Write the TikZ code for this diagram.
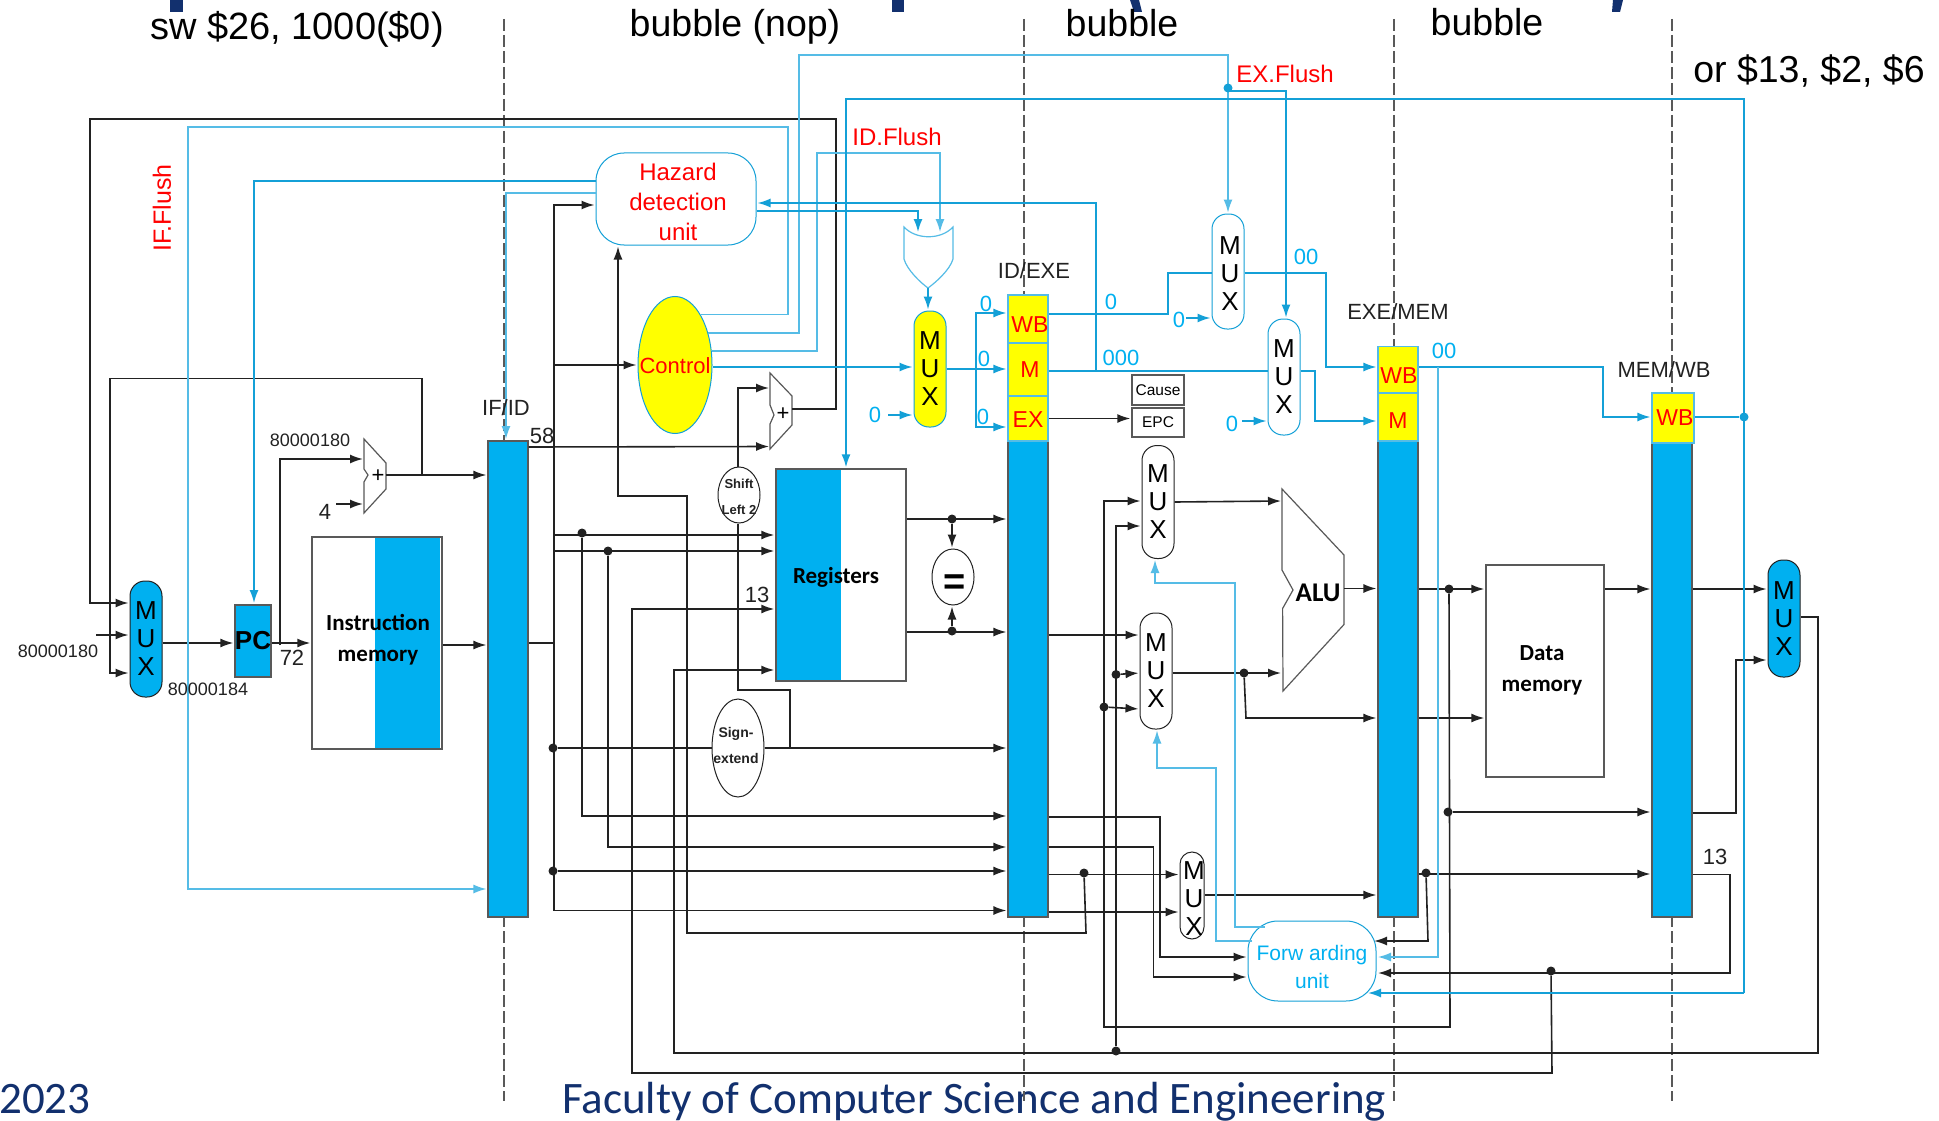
\documentclass[tikz,border=0pt]{standalone}
\usepackage{fontspec}
\setmainfont{Liberation Sans}
\newfontfamily\calibrifont{Carlito}
\usetikzlibrary{shapes.geometric, arrows.meta}
\definecolor{wirec}{RGB}{34,34,34}
\definecolor{edgec}{RGB}{89,89,89}
\definecolor{ctrlc}{RGB}{20,160,215}
\definecolor{ctrllight}{RGB}{85,188,230}
\definecolor{busblue}{RGB}{0,176,240}
\definecolor{navyc}{RGB}{18,48,110}
\definecolor{stageyellow}{RGB}{255,255,0}
\definecolor{redc}{RGB}{255,0,0}
\newcommand{\fsz}[1]{\fontsize{#1}{#1}\selectfont}
\newcommand{\fszl}[2]{\fontsize{#1}{#2}\selectfont}
\tikzset{
  wire/.style={draw=wirec, line width=1.6pt},
  ctrl/.style={draw=ctrlc, line width=1.6pt},
  ctrlthin/.style={draw=ctrllight, line width=1.4pt},
  arrowed/.style={-{Latex[length=13pt,width=9pt]}, shorten >=1pt},
  stageline/.style={draw=edgec, line width=1.4pt, dash pattern=on 12pt off 4pt},
  barnode/.style={draw=edgec, fill=busblue, line width=1.2pt, inner sep=0pt, minimum width=40pt},
  stagebox/.style={draw=ctrllight, fill=stageyellow, line width=1.2pt, inner sep=0pt, minimum width=40pt},
  stagetxt/.style={text=redc, inner sep=0pt, font=\fsz{23}},
  muxnode/.style={draw=wirec, fill=white, rounded corners=15pt, inner sep=0pt, line width=1pt, align=center, minimum width=32pt, font=\fszl{26}{28}},
  memnode/.style={draw=edgec, line width=1.4pt, inner sep=0pt},
  memtxt/.style={inner sep=0pt, align=center, font=\calibrifont\bfseries\fszl{23}{31}},
  unitnode/.style={draw=ctrlc, fill=white, inner sep=0pt, line width=1pt},
  ovalnode/.style={ellipse, draw=wirec, fill=white, inner sep=0pt, line width=1pt},
  dotnode/.style={circle, fill=wirec, inner sep=0pt, minimum size=9pt},
  lbl/.style={text=wirec, inner sep=0pt, font=\fsz{22}},
  bigtxt/.style={anchor=base, text=black, inner sep=0pt, font=\fsz{37.5}},
  redtxt/.style={text=redc, inner sep=0pt, font=\fsz{24}},
  cyantxt/.style={text=busblue, inner sep=0pt, font=\fsz{22}},
  numtxt/.style={text=wirec, inner sep=0pt, font=\fsz{18}},
  gatepath/.style={draw=edgec, fill=white, line width=1.2pt}
}
\begin{document}
\begin{tikzpicture}[x=1pt,y=-1pt]
  \fill[white] (0,0) rectangle (1939,1121);
  \useasboundingbox (0,0) rectangle (1939,1121);

  \fill[navyc] (170,0) rectangle (183,12);
  \fill[navyc] (892,0) rectangle (904,12);
  \fill[navyc] (1130,0) -- (1139,0) -- (1142,12) -- (1134,12) -- cycle;
  \fill[navyc] (1613,0) -- (1623,0) -- (1620,12) -- (1612,12) -- cycle;
  \node[anchor=base west, text=navyc, inner sep=0pt, font=\calibrifont\fsz{45}] (yeartxt) at (-1,1113) {2023};
  \node[anchor=base west, text=navyc, inner sep=0pt, font=\calibrifont\fsz{45}] (facultytxt) at (562,1113) {Faculty of Computer Science and Engineering};

  \foreach \sx in {504,1024,1394,1672}
    \draw[stageline] (\sx,19) -- (\sx,1101);

  \node[bigtxt, font=\fsz{38}] (swtxt) at (297,40) {sw \$26, 1000(\$0)};
  \node[bigtxt] (nop) at (735,37) {bubble (nop)};
  \node[bigtxt] (bubbleone) at (1122,37) {bubble};
  \node[bigtxt] (bubbletwo) at (1487,36) {bubble};
  \node[bigtxt] (ortxt) at (1809,83) {or \$13, \$2, \$6};

  \node[barnode, minimum height=476pt] (ifid) at (508,679) {};
  \node[barnode, minimum height=476pt] (idbar) at (1028,679) {};
  \node[barnode, minimum height=476pt] (exbar) at (1398,679) {};
  \node[barnode, minimum height=474pt] (membar) at (1672,680) {};
  \node[stagebox, minimum height=48pt] (idwb) at (1028,319) {};
  \node[stagebox, minimum height=53pt] (idm) at (1028,369.5) {};
  \node[stagebox, minimum height=45pt] (idex) at (1028,418.5) {};
  \node[stagebox, minimum height=46.5pt] (exwb) at (1398,370) {};
  \node[stagebox, minimum height=48pt] (exm) at (1398,417) {};
  \node[stagebox, minimum height=50pt, minimum width=42pt] (memwb) at (1673,418) {};
  \node[stagetxt] (idwbtxt) at (1030,325) {WB};
  \node[stagetxt] (idmtxt) at (1030,370) {M};
  \node[stagetxt] (idextxt) at (1028,420) {EX};
  \node[stagetxt] (exwbtxt) at (1399,376) {WB};
  \node[stagetxt] (exmtxt) at (1398,421) {M};
  \node[stagetxt] (memwbtxt) at (1675,418) {WB};

  \node[muxnode, fill=busblue, minimum height=116pt] (muxpc) at (146,639) {M\\U\\X};
  \node[draw=edgec, fill=busblue, line width=1.2pt, inner sep=0pt, minimum width=33pt, minimum height=72pt, font=\bfseries\fsz{26}] (pc) at (253,641) {PC};
  \fill[busblue] (375,538) rectangle (440,748);
  \node[memnode, minimum width=130pt, minimum height=212pt] (imem) at (377,643) {};
  \node[memtxt] (imemtxt) at (378,640) {Instruction\\memory};
  \fill[busblue] (776,469) rectangle (841,681);
  \node[memnode, minimum width=130pt, minimum height=212pt] (regs) at (841,575) {};
  \node[memtxt] (regstxt) at (836,577) {Registers};
  \node[memnode, minimum width=118pt, minimum height=212pt] (dmem) at (1545,671) {};
  \node[memtxt] (dmemtxt) at (1542,670) {Data\\memory};

  \node[unitnode, rounded corners=28pt, minimum width=160pt, minimum height=92pt] (hazard) at (676,199) {};
  \node[inner sep=0pt, align=center, text=redc, font=\fszl{24}{30}] (hazardtxt) at (678,202) {Hazard\\detection\\unit};
  \node[unitnode, ellipse, fill=stageyellow, minimum width=74pt, minimum height=137pt] (control) at (675,365) {};
  \node[inner sep=0pt, text=redc, font=\fsz{22}] (controltxt) at (675,366) {Control};
  \node[unitnode, rounded corners=30pt, minimum width=128pt, minimum height=80pt] (fwd) at (1312,961) {};
  \node[inner sep=0pt, align=center, text=busblue, font=\fszl{21}{28}] (fwdtxt) at (1312,967) {Forw arding\\unit};

  \node[muxnode, draw=ctrlc, fill=stageyellow, minimum height=116pt] (muxctrl) at (930,369) {M\\U\\X};
  \node[muxnode, draw=ctrlc, minimum height=115pt] (muxwb) at (1228,271.5) {};
  \node[inner sep=0pt, align=center, font=\fszl{26}{28}] (muxwbtxt) at (1230,274) {M\\U\\X};
  \node[muxnode, draw=ctrlc, minimum height=116pt] (muxm) at (1284,377) {M\\U\\X};
  \node[muxnode, minimum height=113pt] (muxa) at (1158,502) {M\\U\\X};
  \node[muxnode, minimum height=116pt] (muxb) at (1156,671) {M\\U\\X};
  \node[muxnode, rounded corners=12pt, minimum width=24pt, minimum height=87pt] (muxrd) at (1192,895.5) {};
  \node[inner sep=0pt, align=center, font=\fszl{26}{28}] (muxrdtxt) at (1194,899) {M\\U\\X};
  \node[muxnode, fill=busblue, minimum height=117pt] (muxwr) at (1784,618.5) {M\\U\\X};

  \node[ovalnode, minimum width=42pt, minimum height=56pt] (shiftl) at (739,495) {};
  \node[inner sep=0pt, align=center, text=wirec, font=\bfseries\fszl{13}{26}] (shifttxt) at (739,497) {Shift\\Left 2};
  \node[ovalnode, minimum width=52pt, minimum height=98pt] (signext) at (738,748) {};
  \node[inner sep=0pt, align=center, text=wirec, font=\bfseries\fszl{14}{26}] (signtxt) at (736,745) {Sign-\\extend};
  \node[ovalnode, minimum width=42pt, minimum height=56pt] (equal) at (953,577) {};
  \node[inner sep=0pt, font=\bfseries\fsz{38}] (equaltxt) at (955,585) {=};
  \node[draw=edgec, line width=1.4pt, inner sep=0pt, minimum width=52pt, minimum height=30pt, font=\fsz{15.5}] (cause) at (1158,390) {Cause};
  \node[draw=edgec, line width=1.4pt, inner sep=0pt, minimum width=52pt, minimum height=29pt, font=\fsz{15.5}] (epc) at (1158,422.5) {EPC};

  \draw[gatepath] (364,439) -- (386,463) -- (386,489) -- (364,513) -- (364,482) -- (368,475) -- (364,469) -- cycle;
  \draw[gatepath] (770,373) -- (792,396) -- (792,425) -- (770,449) -- (770,424) -- (774,415) -- (770,405) -- cycle;
  \draw[gatepath] (1282,489) -- (1344,555) -- (1344,624.5) -- (1283,691) -- (1282.6,608.5) -- (1293,590) -- (1282,570) -- cycle;
  \draw[draw=ctrllight, fill=white, line width=1.2pt] (904,227) .. controls (916,240) and (941,240) .. (953,227) -- (953,259) .. controls (950,270) and (935,283) .. (928,288) .. controls (921,283) and (907,270) .. (904,259) -- cycle;
  \node[inner sep=0pt, font=\fsz{22}] (addpcplus) at (378,476) {+};
  \node[inner sep=0pt, font=\fsz{22}] (addbrplus) at (783,414) {+};
  \node[inner sep=0pt, font=\calibrifont\bfseries\fsz{27}] (alutxt) at (1318,593) {ALU};

  \coordinate (addpca) at (364,459);
  \coordinate (addpcb) at (364,504);
  \coordinate (addpco) at (386,475);
  \coordinate (addbra) at (770,388);
  \coordinate (addbrb) at (770,446.5);
  \coordinate (addbro) at (792,409);
  \coordinate (alua) at (1282,501);
  \coordinate (alub) at (1282,673);
  \coordinate (aluo) at (1344,588.5);
  \coordinate (orleft) at (918,233);
  \coordinate (orright) at (940,233);
  \coordinate (orout) at (928,288);

  \node[dotnode] (dra) at (582,533) {};
  \node[dotnode] (drb) at (608,551) {};
  \node[dotnode] (dsign) at (553,748) {};
  \node[dotnode] (dpc) at (553,871) {};
  \node[dotnode] (dregb) at (952,519) {};
  \node[dotnode] (dregc) at (952,631) {};
  \node[dotnode] (drt) at (1084,873) {};
  \node[dotnode] (dmuxa) at (1104,707) {};
  \node[dotnode] (dmuxb) at (1116,674.5) {};
  \node[dotnode] (dwrite) at (1116,1051) {};
  \node[dotnode] (dalub) at (1244,673) {};
  \node[dotnode] (dexa) at (1449,589) {};
  \node[dotnode] (dexb) at (1448,812) {};
  \node[dotnode] (dexc) at (1426,873) {};
  \node[dotnode] (dmemrd) at (1551,971) {};

  \draw[wire,arrowed] (muxpc.east |- 0,643) -- (pc.west |- 0,643);
  \draw[wire,arrowed] (pc.east |- 0,643) -- (imem.west |- 0,643);
  \draw[wire,arrowed] (280,645) -- (280,459) -- (addpca);
  \draw[wire,arrowed] (addpco) -- (ifid.west |- 0,475);
  \draw[wire,arrowed] (422,475) -- (422,378.5) -- (110,378.5) -- (110,673) -- (muxpc.west |- 0,673);
  \draw[wire,arrowed] (addbro) -- (836,409) -- (836,119) -- (90,119) -- (90,603) -- (muxpc.west |- 0,603);
  \draw[wire,arrowed] (96,635) -- (muxpc.west |- 0,635);
  \draw[wire,arrowed] (336,504) -- (addpcb);
  \draw[wire,arrowed] (imem.east |- 0,645) -- (ifid.west |- 0,645);
  \draw[wire] (ifid.east |- 0,643) -- (554,643);
  \draw[wire,arrowed] (554,910.5) -- (554,205) -- (hazard.west |- 0,205);
  \draw[wire,arrowed] (554,910.5) -- (idbar.west |- 0,910.5);
  \draw[wire,arrowed] (554,365) -- (control.west);
  \draw[wire,arrowed] (554,535) -- (regs.west |- 0,535);
  \draw[wire,arrowed] (554,551) -- (regs.west |- 0,551);
  \draw[wire,arrowed] (dra) -- (582,816) -- (idbar.west |- 0,816);
  \draw[wire,arrowed] (drb) -- (608,847) -- (idbar.west |- 0,847);
  \draw[wire] (dsign) -- (signext.west);
  \draw[wire,arrowed] (signext.east) -- (idbar.west |- 0,748);
  \draw[wire,arrowed] (dpc) -- (idbar.west |- 0,871);
  \draw[wire] (790,748) -- (790,690) -- (738,690) -- (shiftl.south -| 738,0);
  \draw[wire,arrowed] (shiftl.north -| 738,0) -- (738,388) -- (addbra);
  \draw[wire,arrowed] (ifid.east |- 0,447) -- (addbrb);
  \draw[wire,arrowed] (drt) -- (1086,933) -- (687,933) -- (687,496) -- (618,496) -- (hazard.south -| 618,0);
  \draw[wire,arrowed] (muxwr.east |- 0,617) -- (1818,617) -- (1818,1053) -- (674,1053) -- (674,670) -- (regs.west |- 0,670);
  \draw[wire,arrowed] (dmemrd) -- (1552,1073) -- (632,1073) -- (632,609) -- (regs.west |- 0,609);
  \draw[wire,arrowed] (regs.east |- 0,519) -- (idbar.west |- 0,519);
  \draw[wire,arrowed] (dregb) -- (equal.north -| dregb);
  \draw[wire,arrowed] (regs.east |- 0,632) -- (idbar.west |- 0,632);
  \draw[wire,arrowed] (dregc) -- (equal.south -| dregc);
  \draw[wire,arrowed] (idex.east |- 0,418.5) -- (epc.west |- 0,418.5);
  \draw[wire,arrowed] (idbar.east |- 0,635) -- (muxb.west |- 0,635);
  \draw[wire,arrowed] (dexa) -- (1450,1027) -- (1104,1027) -- (1104,501) -- (muxa.west |- 0,501);
  \draw[wire,arrowed] (dwrite) -- (1116,526) -- (muxa.west |- 0,526);
  \draw[wire,arrowed] (dmuxa) -- (muxb.west |- 0,709);
  \draw[wire,arrowed] (dmuxb) -- (muxb.west |- 0,673);
  \draw[wire,arrowed] (muxa.east |- 0,502) -- (alua);
  \draw[wire,arrowed] (muxb.east |- 0,673) -- (alub);
  \draw[wire,arrowed] (dalub) -- (1246,718) -- (exbar.west |- 0,718);
  \draw[wire,arrowed] (aluo) -- (exbar.west |- 0,588.5);
  \draw[wire,arrowed] (exbar.east |- 0,589) -- (dmem.west |- 0,589);
  \draw[wire,arrowed] (exbar.east |- 0,718) -- (dmem.west |- 0,718);
  \draw[wire,arrowed] (dexb) -- (membar.west |- 0,812);
  \draw[wire,arrowed] (exbar.east |- 0,874) -- (membar.west |- 0,874);
  \draw[wire,arrowed] (dexc) -- (1428,941) -- (1373,941);
  \draw[wire,arrowed] (dmem.east |- 0,589) -- (membar.west |- 0,589);
  \draw[wire,arrowed] (membar.east |- 0,589) -- (muxwr.west |- 0,589);
  \draw[wire,arrowed] (membar.east |- 0,813) -- (1736,813) -- (1736,660) -- (muxwr.west |- 0,660);
  \draw[wire,arrowed] (membar.east |- 0,874.5) -- (1730,874.5) -- (1730,973) -- (1377,973);
  \draw[wire,arrowed] (idbar.east |- 0,874.5) -- (muxrd.west |- 0,874.5);
  \draw[wire,arrowed] (idbar.east |- 0,912) -- (muxrd.west |- 0,912);
  \draw[wire,arrowed] (muxrd.east |- 0,895) -- (exbar.west |- 0,895);
  \draw[wire,arrowed] (idbar.east |- 0,817) -- (1160,817) -- (1160,957) -- (fwd.west |- 0,957);
  \draw[wire,arrowed] (idbar.east |- 0,847) -- (1153.5,847) -- (1153.5,977) -- (fwd.west |- 0,977);

  \draw[ctrl,arrowed] (hazard.west |- 0,181) -- (254,181) -- (254,604);
  \draw[ctrlthin,arrowed] (hazard.west |- 0,193) -- (506,193) -- (506,440);
  \draw[ctrlthin,arrowed] (control.63) -| (788,127) -- (188,127) -- (188,889) -- (ifid.west |- 0,889);
  \draw[ctrlthin,arrowed] (control.44) -| (799,55) -- (1228,55) -- (muxwb.north);
  \draw[ctrl,arrowed] (1228,91) -- (1286,91) -- (muxm.north -| 1286,0);
  \node[circle, fill=ctrlc, inner sep=0pt, minimum size=9pt] (dflush) at (1228,88) {};
  \draw[ctrlthin,arrowed] (control.21) -| (817,153) -- (940,153) -- (orright);
  \draw[ctrl,arrowed] (hazard.east |- 0,211) -- (918,211) -- (orleft);
  \draw[ctrl,arrowed] (1096,371) -- (1096,203) -- (hazard.east |- 0,203);
  \draw[ctrl,arrowed] (orout) -- (muxctrl.north -| orout);
  \draw[ctrl,arrowed] (control.east |- 0,367) -- (muxctrl.west |- 0,367);
  \draw[ctrl] (muxctrl.east |- 0,369) -- (976,369);
  \draw[ctrl,arrowed] (976,369) -- (idm.west |- 0,369);
  \draw[ctrl,arrowed] (976,369) -- (976,313) -- (idwb.west |- 0,313);
  \draw[ctrl,arrowed] (976,369) -- (976,427) -- (idex.west |- 0,427);
  \draw[ctrl] (idwb.east |- 0,314) -- (1168,314) -- (1168,273) -- (muxwb.west |- 0,273);
  \draw[ctrl,arrowed] (muxwb.east |- 0,273) -- (1326,273) -- (1326,367) -- (exwb.west |- 0,367);
  \draw[ctrl] (idm.east |- 0,371) -- (muxm.west |- 0,371);
  \draw[ctrl,arrowed] (muxm.east |- 0,371) -- (1315,371) -- (1315,421) -- (exm.west |- 0,421);
  \draw[ctrl,arrowed] (exwb.east |- 0,367) -- (1603,367) -- (1603,417) -- (memwb.west |- 0,417);
  \draw[ctrlthin,arrowed] (1438,367) -- (1438,957) -- (1377,957);
  \node[circle, fill=ctrlc, inner sep=0pt, minimum size=9pt] (dwbout) at (1744,417) {};
  \draw[ctrl] (memwb.east |- 0,417) -- (dwbout);
  \draw[ctrl,arrowed] (1744,993) -- (1744,99) -- (846,99) -- (regs.north -| 846,0);
  \draw[ctrl,arrowed] (1744,993) -- (1367,993);
  \draw[ctrlthin,arrowed] (1265,927) -- (1235,927) -- (1235,583) -- (1155,583) -- (muxa.south -| 1155,0);
  \draw[ctrlthin,arrowed] (1252,941) -- (1216,941) -- (1216,768) -- (1157,768) -- (muxb.south -| 1157,0);
  \draw[ctrl,arrowed] (888,415) -- (muxctrl.west |- 0,415);
  \draw[ctrl,arrowed] (1186,318) -- (muxwb.west |- 0,318);
  \draw[ctrl,arrowed] (1242,421) -- (muxm.west |- 0,421);

  \node[lbl] (ififlbl) at (506,408) {IF/ID};
  \node[lbl] (idexelbl) at (1034,271) {ID/EXE};
  \node[lbl] (exmemlbl) at (1398,312) {EXE/MEM};
  \node[lbl] (memwblbl) at (1664,370) {MEM/WB};
  \node[lbl] (num58) at (542,436) {58};
  \node[lbl] (numfour) at (325,512) {4};
  \node[lbl] (num72) at (292,658) {72};
  \node[lbl] (numrega) at (757,595) {13};
  \node[lbl] (numregb) at (1715,857) {13};
  \node[numtxt] (addrtop) at (310,440) {80000180};
  \node[numtxt] (addrleft) at (58,651) {80000180};
  \node[numtxt] (addrpc) at (208,689) {80000184};
  \node[redtxt, rotate=90, font=\fsz{25}] (ifflush) at (162,208) {IF.Flush};
  \node[redtxt] (idflush) at (897,137) {ID.Flush};
  \node[redtxt] (exflush) at (1285,74) {EX.Flush};
  \node[cyantxt] (zeroa) at (986,304) {0};
  \node[cyantxt] (zerob) at (984,359) {0};
  \node[cyantxt] (zeroc) at (983,417) {0};
  \node[cyantxt] (zerod) at (875,415) {0};
  \node[cyantxt] (zeroe) at (1111,302) {0};
  \node[cyantxt] (zerof) at (1179,320) {0};
  \node[cyantxt] (zerog) at (1232,424) {0};
  \node[cyantxt] (zeroh) at (1121,358) {000};
  \node[cyantxt] (zeroi) at (1306,257) {00};
  \node[cyantxt] (zeroj) at (1444,351) {00};
\end{tikzpicture}
\end{document}
